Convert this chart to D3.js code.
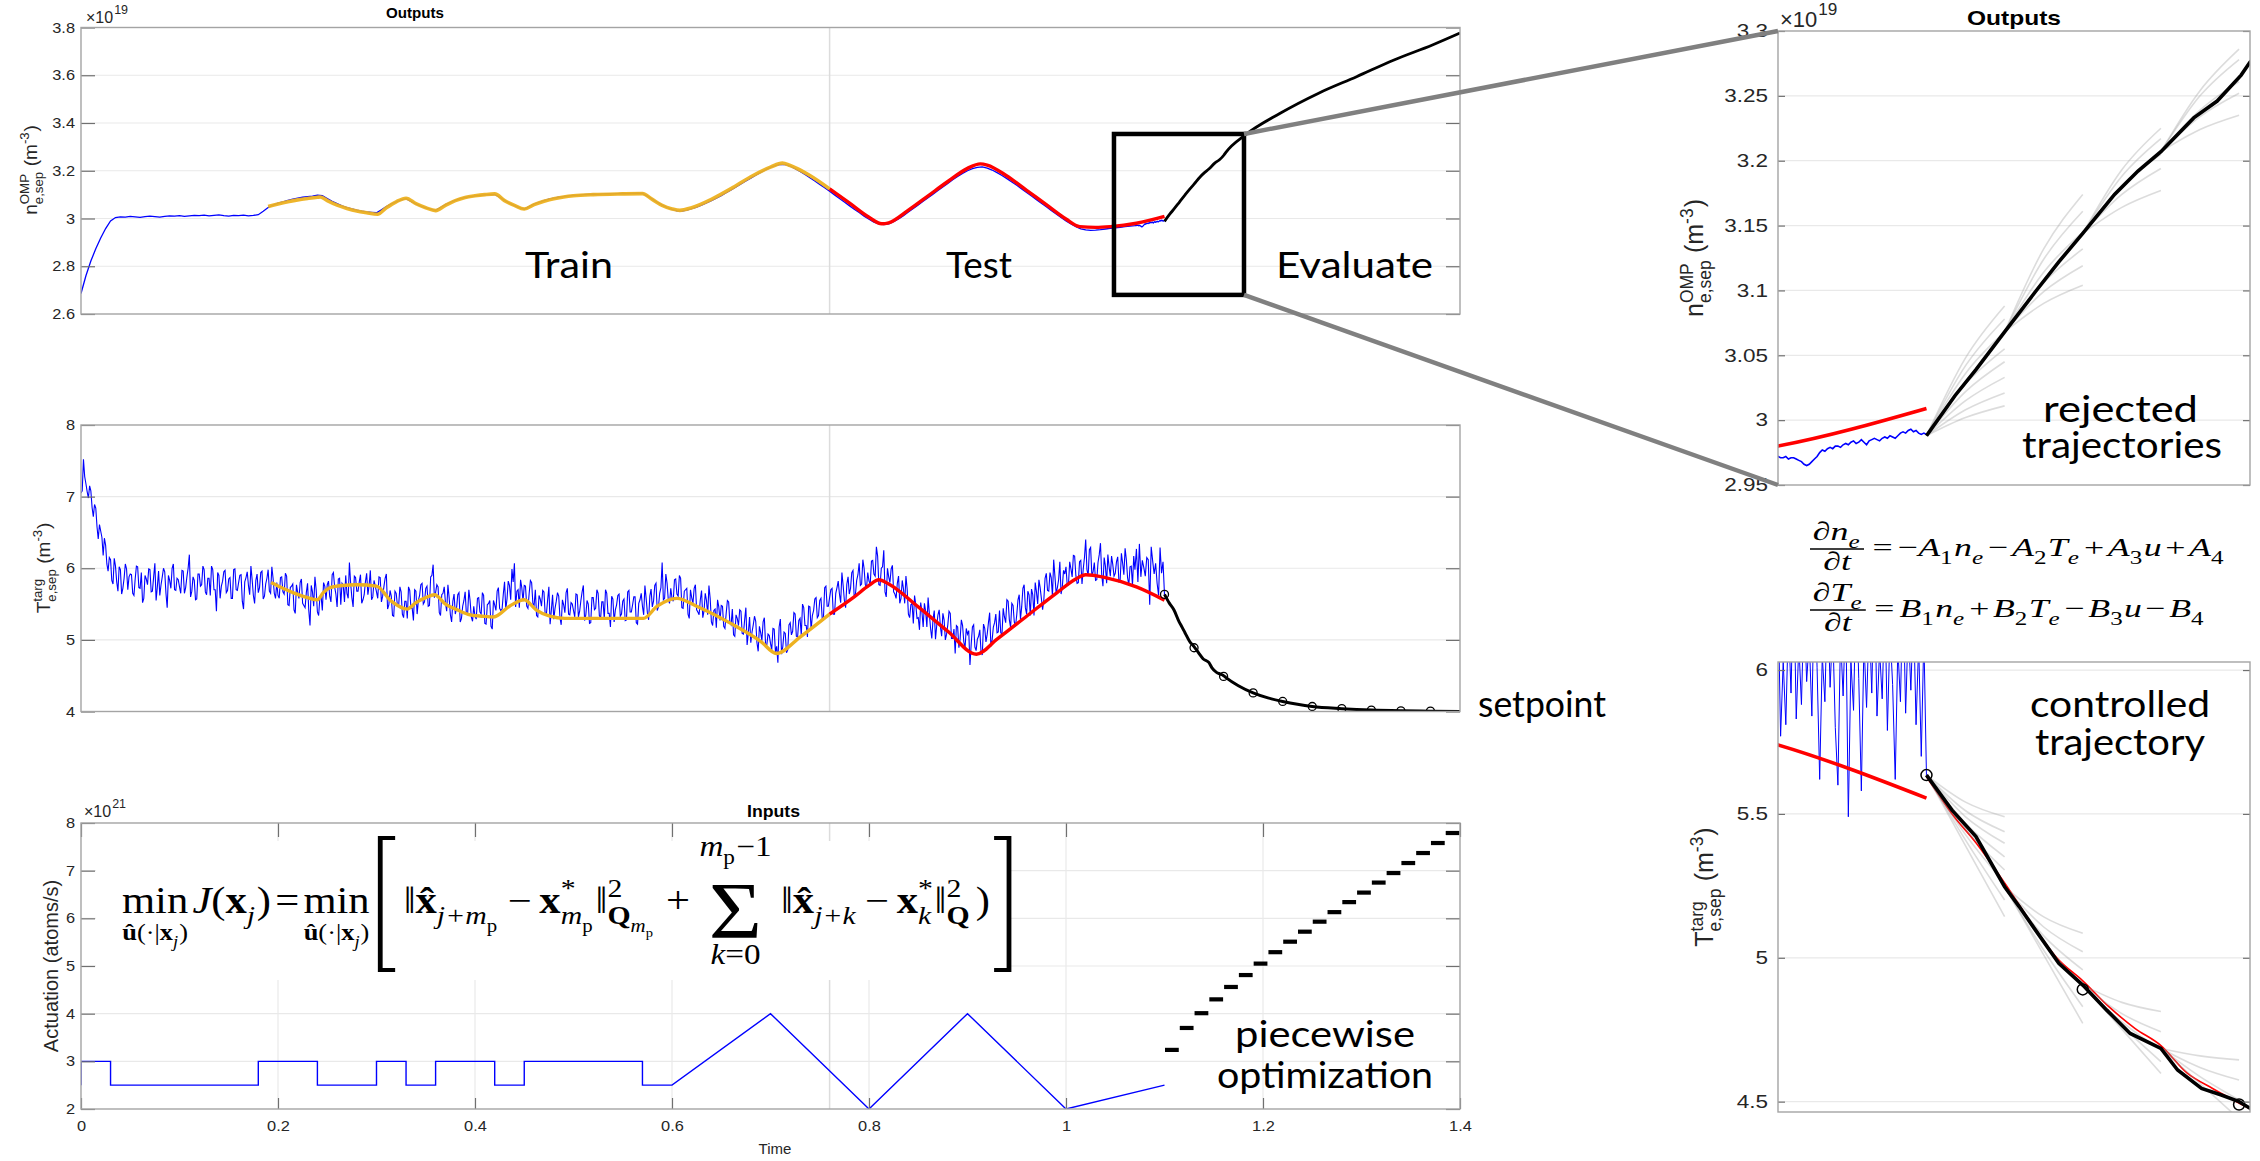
<!DOCTYPE html>
<html>
<head>
<meta charset="utf-8">
<script src="https://cdnjs.cloudflare.com/ajax/libs/d3/7.8.5/d3.min.js"></script>
<style>
  html, body { margin: 0; padding: 0; background: #ffffff; }
  svg { display: block; }
</style>
</head>
<body>
<svg id="fig" width="2260" height="1161" xmlns="http://www.w3.org/2000/svg"></svg>
<script>
// ---------------- tick values ----------------
const timeTicks = [0, 0.2, 0.4, 0.6, 0.8, 1, 1.2, 1.4];
const nTicks = [2.6, 2.8, 3, 3.2, 3.4, 3.6, 3.8];
const TTicks = [4, 5, 6, 7, 8];
const uTicks = [2, 3, 4, 5, 6, 7, 8];
const nZoomTicks = [2.95, 3, 3.05, 3.1, 3.15, 3.2, 3.25, 3.3];
const TZoomTicks = [4.5, 5, 5.5, 6];
const splitTime = 0.76;               // train / test boundary

// ---------------- density n (x1e19 m^-3) ----------------
// measured, 0 .. 1.065 s every 5 ms, in units of 1e16
const nBlueStep = 0.005;
const nBlue = [
 2686,2760,2822,2873,2918,2958,2990,3004,3007,3006,
 3009,3007,3005,3008,3010,3008,3006,3009,3011,3010,
 3012,3009,3011,3013,3012,3014,3011,3013,3015,3012,
 3010,3013,3012,3014,3011,3013,3016,3030,3046,3056,
 3064,3070,3076,3081,3085,3089,3092,3094,3098,3096,
 3084,3072,3062,3053,3046,3040,3035,3031,3028,3026,
 3024,3036,3050,3061,3070,3078,3083,3072,3061,3052,
 3045,3039,3034,3046,3058,3068,3076,3083,3088,3092,
 3095,3097,3099,3100,3101,3089,3076,3064,3054,3046,
 3039,3050,3060,3068,3075,3081,3085,3089,3092,3095,
 3097,3098,3100,3101,3102,3101,3103,3104,3103,3104,
 3105,3104,3105,3106,3105,3094,3081,3068,3056,3046,
 3038,3032,3031,3035,3041,3048,3056,3065,3075,3085,
 3096,3108,3120,3132,3145,3157,3169,3181,3193,3204,
 3214,3222,3227,3226,3219,3209,3197,3184,3171,3157,
 3143,3129,3114,3099,3084,3069,3054,3039,3025,3010,
 2997,2985,2977,2974,2978,2987,2998,3012,3027,3042,
 3057,3072,3087,3102,3117,3132,3147,3162,3176,3189,
 3200,3209,3214,3216,3211,3203,3192,3180,3167,3153,
 3139,3124,3109,3094,3079,3064,3049,3034,3019,3004,
 2990,2977,2966,2957,2952,2950,2951,2953,2956,2959,
 2961,2963,2966,2968
];
// measured, 1.07 .. 1.10 s every 0.5 ms
const fineStart = 1.07, fineStep = 0.0005;
const nBlueFine = [
 2970,2971,2970,2972,2971,2971,2972,2970,2971,2971,
 2970,2969,2968,2966,2965,2966,2968,2970,2972,2975,
 2977,2976,2978,2979,2978,2980,2980,2979,2981,2982,
 2981,2983,2984,2982,2983,2985,2983,2981,2984,2985,
 2986,2985,2984,2986,2987,2986,2988,2987,2986,2988,
 2990,2991,2990,2992,2993,2991,2992,2990,2989,2990,
 2989
];
// identified model, training window
const nTrainT = [0.190,0.200,0.210,0.220,0.230,0.240,0.243,0.250,0.260,0.270,0.280,0.290,0.301,0.310,0.320,0.330,0.340,0.350,0.360,0.370,0.380,0.390,0.400,0.410,0.420,0.430,0.440,0.450,0.460,0.470,0.480,0.490,0.500,0.520,0.550,0.570,0.580,0.590,0.600,0.608,0.620,0.640,0.660,0.680,0.700,0.712,0.720,0.740,0.760];
const nTrainV = [3.050,3.061,3.070,3.078,3.084,3.089,3.090,3.075,3.056,3.042,3.031,3.024,3.018,3.045,3.070,3.085,3.062,3.045,3.033,3.055,3.075,3.088,3.095,3.100,3.103,3.075,3.055,3.040,3.058,3.072,3.083,3.090,3.095,3.100,3.103,3.104,3.080,3.055,3.040,3.034,3.045,3.080,3.125,3.175,3.215,3.232,3.222,3.180,3.124];
// identified model, test window
const nTestT = [0.760,0.780,0.800,0.813,0.820,0.840,0.860,0.880,0.900,0.913,0.920,0.940,0.960,0.980,1.000,1.014,1.030,1.045,1.0715,1.100];
const nTestV = [3.124,3.065,3.005,2.978,2.982,3.035,3.095,3.155,3.210,3.229,3.224,3.178,3.118,3.058,2.998,2.966,2.963,2.966,2.980,3.009];
// controlled trajectory
const nCtrlT = [1.100,1.1055,1.1095,1.115,1.1209,1.1254,1.130,1.1361,1.1406,1.145,1.1513,1.1558,1.1604,1.1621,1.182,1.217,1.256,1.295,1.333,1.372,1.400];
const nCtrlV = [2.988,3.019,3.039,3.068,3.099,3.122,3.144,3.174,3.192,3.207,3.233,3.246,3.266,3.276,3.350,3.440,3.524,3.594,3.664,3.727,3.777];
// candidate (rejected) trajectories of each optimisation step
const fanStep = 0.015;
const nFanOrigin = [[1.100,2.988],[1.115,3.068],[1.130,3.144],[1.145,3.207]];
const nFanMid = [[3.048,3.042,3.036,3.028,3.022,3.015,3.008,3.002],[3.132,3.124,3.114,3.106,3.099,3.090],[3.193,3.188,3.181,3.174,3.164],[3.254,3.250,3.239,3.234,3.224]];
const nFanEnd = [[3.088,3.078,3.068,3.055,3.045,3.033,3.021,3.011],[3.174,3.161,3.145,3.132,3.119,3.104],[3.225,3.217,3.205,3.194,3.177],[3.286,3.278,3.261,3.252,3.235]];
// magnified window
const zoomWindow = { t: [1.0487, 1.1807], n: [2.680, 3.354] };

// ---------------- target temperature T ----------------
// measured, 0 .. 1.06875 s every 1.25 ms, in units of 0.01
const TBlueStep = 0.00125;
const TBlue = [
 705,708,752,728,718,707,698,715,708,685,672,689,684,658,641,661,652,643,618,642,632,606,596,615,612,583,578,614,603,581,568,602,598,564,572,586,606,599,570,588,
 592,591,565,562,585,603,602,573,572,594,552,558,590,585,577,599,598,567,568,588,607,555,574,596,562,577,588,600,595,565,545,590,583,572,600,606,570,569,586,584,
 574,565,597,596,565,573,588,600,619,560,568,588,583,556,557,592,592,575,577,603,598,567,563,586,586,562,603,598,570,570,540,594,590,558,575,582,595,597,566,569,
 585,587,558,558,598,599,570,569,580,590,591,554,543,581,587,595,576,563,603,584,562,551,583,592,566,573,594,596,557,561,578,586,598,568,565,602,586,565,558,580,
 562,558,587,588,567,564,593,589,549,548,573,575,578,542,537,577,566,558,580,585,551,548,545,566,579,541,520,576,567,547,588,570,539,534,559,561,541,580,575,556,
 577,582,561,553,591,594,574,564,546,585,586,549,579,576,553,590,565,558,608,579,559,546,589,587,568,568,581,591,551,556,563,581,593,563,576,597,556,560,583,575,
 567,558,588,587,553,561,574,586,592,543,549,569,561,534,533,568,565,548,548,574,567,536,531,554,554,530,574,569,544,544,527,570,568,536,555,562,577,579,550,553,
 572,575,547,548,588,590,605,559,566,577,574,538,534,563,565,574,552,540,577,559,535,525,554,564,536,544,563,566,525,530,547,555,567,536,536,570,555,532,526,547,
 533,529,558,559,539,536,566,562,523,522,549,551,555,519,515,555,549,541,568,573,544,541,543,564,581,543,557,582,576,556,599,581,607,546,568,570,545,584,573,554,
 576,575,547,544,565,583,580,551,548,570,534,532,562,557,547,569,567,536,536,556,574,522,541,563,529,544,554,566,561,531,521,556,549,538,566,572,536,535,552,550,
 541,532,564,563,532,540,555,567,576,527,535,555,550,523,524,559,559,542,544,570,565,534,530,553,553,529,570,565,537,537,518,561,557,525,542,549,562,564,533,536,
 554,557,527,528,567,569,539,539,549,560,560,524,522,551,556,565,547,535,576,558,538,528,561,571,546,554,576,579,541,546,565,573,608,556,558,592,579,556,551,572,
 558,554,584,585,564,561,590,586,545,544,568,570,572,536,530,570,559,551,572,577,542,539,535,556,569,531,540,565,555,535,576,558,525,520,541,543,517,556,546,527,
 548,547,519,516,537,555,553,524,521,543,507,505,535,530,520,542,540,509,508,528,545,493,510,532,496,511,521,533,526,496,484,519,510,499,525,531,494,493,508,506,
 495,486,516,515,483,491,468,518,529,480,491,511,509,482,486,521,524,507,512,538,536,505,504,527,530,506,550,545,520,520,504,547,546,514,534,541,557,559,531,534,
 555,558,530,531,573,575,547,547,559,570,572,536,536,565,573,582,564,552,594,576,555,545,578,588,564,572,594,597,559,564,583,591,607,576,578,612,600,577,573,594,
 582,578,610,611,592,589,630,617,577,576,600,602,625,567,560,600,588,580,599,604,567,564,558,579,589,551,558,583,571,551,589,571,536,531,549,551,523,562,549,530,
 531,514,552,539,518,551,540,518,559,537,516,502,529,541,501,520,535,542,518,505,537,528,500,508,521,540,537,502,502,515,481,520,518,489,501,528,520,497,489,516,
 508,513,465,494,518,521,490,485,501,505,514,483,479,522,516,497,508,524,538,491,500,518,524,536,510,511,541,510,507,544,532,524,556,554,528,517,551,548,525,519,
 535,556,563,529,546,572,577,545,536,568,563,534,571,563,534,580,567,550,584,573,558,542,556,586,593,569,568,594,587,561,612,589,565,573,584,609,564,574,597,592,
 602,576,577,609,599,588,618,617,590,579,580,609,611,578,599,615,640,598,590,626,629,590,595,608,583,584,608,619,635,591,575,615,603,579,619,602,589,617,605,589,
 593,609,616,580,584,621,607,591,628,612,587,576,602,603,576,617
];
// measured, 1.07 .. 1.10 s every 0.5 ms
const TBlueFine = [
 598,612,585,627,577,603,581,618,592,634,
 583,609,588,624,596,611,584,632,601,562,
 605,589,628,594,615,580,560,612,591,622,
 549,603,586,630,597,558,610,587,619,592,
 636,584,607,590,625,579,614,595,562,608,
 589,629,585,616,593,622,581,609,570,612,
 563
];
const TTrainT = [0.193,0.205,0.217,0.230,0.240,0.246,0.253,0.265,0.280,0.300,0.315,0.331,0.340,0.350,0.359,0.370,0.382,0.395,0.408,0.419,0.435,0.450,0.462,0.476,0.491,0.530,0.571,0.585,0.605,0.625,0.661,0.690,0.706,0.730,0.760];
const TTrainV = [5.80,5.72,5.65,5.59,5.56,5.66,5.73,5.76,5.77,5.75,5.54,5.43,5.52,5.59,5.63,5.50,5.42,5.35,5.33,5.32,5.47,5.56,5.42,5.33,5.30,5.30,5.30,5.47,5.58,5.47,5.22,4.98,4.81,5.04,5.36];
const TTestT = [0.760,0.785,0.800,0.810,0.820,0.850,0.880,0.909,0.930,0.960,0.990,1.010,1.020,1.040,1.0715,1.100];
const TTestV = [5.36,5.60,5.76,5.84,5.78,5.46,5.12,4.80,5.01,5.33,5.65,5.85,5.91,5.87,5.74,5.555];
const TRefT = [1.100,1.1049,1.1095,1.115,1.1209,1.125,1.130,1.135,1.140,1.145,1.150,1.155,1.1621];
const TRefV = [5.63,5.50,5.40,5.26,5.10,5.00,4.92,4.83,4.755,4.695,4.60,4.545,4.475];
const TCtrlT = [1.100,1.1049,1.1095,1.115,1.1178,1.1209,1.1254,1.130,1.1346,1.1391,1.145,1.1482,1.1528,1.1566,1.160,1.1621,1.175,1.190,1.205,1.220,1.235,1.250,1.280,1.310,1.340,1.370,1.400];
const TCtrlV = [5.635,5.513,5.421,5.247,5.178,5.097,4.981,4.905,4.818,4.737,4.685,4.610,4.546,4.523,4.500,4.477,4.360,4.260,4.190,4.140,4.100,4.070,4.040,4.020,4.010,4.005,4.000];
const TMarkT = [1.10,1.13,1.16,1.19,1.22,1.25,1.28,1.31,1.34,1.37];
const TMarkV = [5.635,4.890,4.490,4.260,4.140,4.070,4.040,4.020,4.010,4.005];
const TFanOrigin = [[1.100,5.635],[1.115,5.247],[1.130,4.905],[1.145,4.685]];
const TFanMid = [[5.541,5.511,5.490,5.467,5.447,5.428,5.409,5.389],[5.142,5.107,5.076,5.053,5.026,5.010],[4.845,4.806,4.777,4.764,4.752],[4.659,4.619,4.587,4.563]];
const TFanEnd = [[5.490,5.438,5.398,5.351,5.305,5.259,5.201,5.143],[5.085,5.021,4.958,4.900,4.830,4.772],[4.813,4.743,4.680,4.639,4.598],[4.645,4.575,4.506,4.440]];

// ---------------- actuation u (x1e21 atoms/s) ----------------
const uStart = 2.5;
const uBreaks = [0, 0.03, 0.18, 0.24, 0.30, 0.33, 0.36, 0.42, 0.45, 0.57, 0.60];
const uLevels = [3, 2.5, 3, 2.5, 3, 2.5, 3, 2.5, 3, 2.5];
const rampT = [0.60, 0.70, 0.80, 0.90, 1.00, 1.10];
const rampU = [2.5, 4, 2, 4, 2, 2.5];
const uOptStart = 1.1, uOptStep = 0.015;
const uOpt = [3.24,3.70,4.01,4.30,4.56,4.81,5.05,5.29,5.51,5.72,5.93,6.13,6.34,6.54,6.75,6.95,7.16,7.37,7.58,7.79];

// ---------------- scales ----------------
const xMain = d3.scaleLinear().domain([0, 1.4]).range([81, 1460]);
const yN = d3.scaleLinear().domain([2.6, 3.8]).range([314, 27.5]);
const yT = d3.scaleLinear().domain([4, 8]).range([711.5, 425]);
const yU = d3.scaleLinear().domain([2, 8]).range([1109, 823]);
const xZ = d3.scaleLinear().domain([1.0715, 1.1621]).range([1778, 2250]);
const yNz = d3.scaleLinear().domain([2.95, 3.3]).range([485, 31]);
const yTz = d3.scaleLinear().domain([4.464, 6.028]).range([1112, 662]);

const svg = d3.select('#fig');
const SANS = '"Liberation Sans", Arial, Helvetica, sans-serif';
const SERIF = '"Liberation Serif", "DejaVu Serif", serif';
const NOTE = 'Lato, "Open Sans", sans-serif';

const layerBack = svg.append('g');
const layerMath = svg.append('g');
const layerData = svg.append('g');
const layerAxes = svg.append('g');
const layerText = svg.append('g');
const layerTop = svg.append('g');

// series assembled from the measured arrays
const nSeries = nBlue.map((v, i) => [i * nBlueStep, v / 1000])
  .concat(nBlueFine.map((v, j) => [fineStart + j * fineStep, v / 1000]));
const TCoarse = TBlue.map((v, i) => [i * TBlueStep, v / 100]);
const TFine = TBlueFine.map((v, j) => [fineStart + j * fineStep, v / 100]);
// the full-range view keeps every third fine sample so the trace density stays even
const TSeriesMain = TCoarse.concat(TFine.filter((d, j) => j % 3 === 0 || j === TFine.length - 1));
const TSeriesZoom = TCoarse.filter(d => d[0] >= 1.065).concat(TFine);
const zip = (a, b) => a.map((t, i) => [t, b[i]]);
const uSeries = (() => {
  const pts = [[0, uStart]];
  uLevels.forEach((lv, i) => { pts.push([uBreaks[i], lv]); pts.push([uBreaks[i + 1], lv]); });
  pts.push([uBreaks[uBreaks.length - 1], rampU[0]]);
  return pts.concat(zip(rampT, rampU).slice(1));
})();

// ---------------- panels ----------------
const panels = {
  n:  { x: xMain, y: yN, yTicks: nTicks, len: 14, fs: 14.5, k: 1.13, pad: 6, split: true },
  T:  { x: xMain, y: yT, yTicks: TTicks, len: 14, fs: 14.5, k: 1.13, pad: 6, split: true },
  u:  { x: xMain, y: yU, yTicks: uTicks, xTicks: timeTicks, len: 14, fs: 14.5, k: 1.13, pad: 6, split: true, xGrid: true },
  nz: { x: xZ, y: yNz, yTicks: nZoomTicks, len: 7, fs: 18, k: 1.25, pad: 10 },
  Tz: { x: xZ, y: yTz, yTicks: TZoomTicks, len: 7, fs: 18, k: 1.25, pad: 10 }
};

function clipFor(id, p) {
  const [x0, x1] = p.x.range(), [yb, yt] = p.y.range();
  svg.append('clipPath').attr('id', 'clip-' + id)
    .append('rect').attr('x', x0).attr('y', yt).attr('width', x1 - x0).attr('height', yb - yt);
  return layerData.append('g').attr('clip-path', `url(#clip-${id})`);
}

function drawBack(p) {
  const [x0, x1] = p.x.range(), [yb, yt] = p.y.range();
  const g = layerBack.append('g');
  g.append('rect').attr('x', x0).attr('y', yt).attr('width', x1 - x0).attr('height', yb - yt).attr('fill', '#fff');
  const inner = p.yTicks.filter(v => v > p.y.domain()[0] + 1e-9 && v < p.y.domain()[1] - 1e-9);
  g.selectAll(null).data(inner).join('line')
    .attr('x1', x0).attr('x2', x1).attr('y1', d => p.y(d)).attr('y2', d => p.y(d))
    .attr('stroke', '#e9e9e9').attr('stroke-width', 1.2);
  if (p.xGrid) {
    g.selectAll(null).data(p.xTicks.slice(1, -1)).join('line')
      .attr('x1', d => p.x(d)).attr('x2', d => p.x(d)).attr('y1', yt).attr('y2', yb)
      .attr('stroke', '#e9e9e9').attr('stroke-width', 1.2);
  }
  if (p.split) {
    g.append('line').attr('x1', p.x(splitTime)).attr('x2', p.x(splitTime)).attr('y1', yt).attr('y2', yb)
      .attr('stroke', '#dcdcdc').attr('stroke-width', 1.5);
  }
}

// tick labels are slightly wide; stretch them horizontally around their anchor
function styleAxis(sel, p, labelled) {
  sel.select('.domain').remove();
  sel.selectAll('.tick line').attr('stroke', '#707070').attr('stroke-width', 1.2);
  if (!labelled) { sel.selectAll('.tick text').remove(); return; }
  sel.selectAll('.tick text').attr('fill', '#262626')
    .style('font-family', SANS).style('font-size', p.fs + 'px')
    .each(function () {
      const x = +(this.getAttribute('x') || 0);
      this.setAttribute('x', 0);
      this.setAttribute('transform', `translate(${x},0) scale(${p.k},1)`);
    });
}

function drawAxes(p) {
  const [x0, x1] = p.x.range(), [yb, yt] = p.y.range();
  const g = layerAxes.append('g');
  const fmt = d3.format('~g');
  g.append('g').attr('transform', `translate(${x0},0)`)
    .call(d3.axisLeft(p.y).tickValues(p.yTicks).tickSizeInner(-p.len).tickSizeOuter(0).tickPadding(p.pad).tickFormat(fmt))
    .call(styleAxis, p, true);
  g.append('g').attr('transform', `translate(${x1},0)`)
    .call(d3.axisRight(p.y).tickValues(p.yTicks).tickSizeInner(-p.len).tickSizeOuter(0))
    .call(styleAxis, p, false);
  if (p.xTicks) {
    g.append('g').attr('transform', `translate(0,${yb})`)
      .call(d3.axisBottom(p.x).tickValues(p.xTicks).tickSizeInner(-11).tickSizeOuter(0).tickPadding(12).tickFormat(fmt))
      .call(styleAxis, p, true);
    g.append('g').attr('transform', `translate(0,${yt})`)
      .call(d3.axisTop(p.x).tickValues(p.xTicks).tickSizeInner(-14).tickSizeOuter(0))
      .call(styleAxis, p, false);
  }
  g.append('rect').attr('x', x0).attr('y', yt).attr('width', x1 - x0).attr('height', yb - yt)
    .attr('fill', 'none').attr('stroke', '#a4a4a4').attr('stroke-width', 1.4);
}

Object.values(panels).forEach(drawBack);

// ---------------- math typesetting helpers ----------------
function putRun(g, x, y, str, fs, o) {
  const t = g.append('text').attr('x', x).attr('y', y).text(str)
    .style('font-size', fs + 'px')
    .style('font-style', o && o.it ? 'italic' : 'normal')
    .style('font-weight', o && o.b ? 'bold' : 'normal');
  return t.node().getComputedTextLength();
}
function layRow(g, x, y, fs, items) {
  let cx = x;
  items.forEach(it => {
    if (typeof it === 'number') { cx += it * fs; return; }
    if (Array.isArray(it)) { cx += putRun(g, cx, y, it[0], fs, it[1]); return; }
    let w = 0;
    if (it.sup) w = Math.max(w, layRow(g, cx, y - fs * 0.42, fs * 0.7, it.sup) - cx);
    if (it.sub) w = Math.max(w, layRow(g, cx, y + fs * 0.3, fs * 0.7, it.sub) - cx);
    cx += w + fs * 0.04;
  });
  return cx;
}
function layStack(g, x, y, main, mainFs, mainDy, over, under, fs, overDy, underDy) {
  const gm = g.append('g'), go = g.append('g'), gu = g.append('g');
  const wm = layRow(gm, 0, 0, mainFs, main);
  const wo = over ? layRow(go, 0, 0, fs, over) : 0;
  const wu = under ? layRow(gu, 0, 0, fs, under) : 0;
  const w = Math.max(wm, wo, wu);
  gm.attr('transform', `translate(${x + (w - wm) / 2},${y + mainDy})`);
  go.attr('transform', `translate(${x + (w - wo) / 2},${y + overDy})`);
  gu.attr('transform', `translate(${x + (w - wu) / 2},${y + underDy})`);
  return x + w;
}

// cost function of the predictive controller
(function costFunction() {
  layerMath.append('rect').attr('x', 96).attr('y', 841).attr('width', 911).attr('height', 139).attr('fill', '#fff');
  const F = 40;
  const g = layerMath.append('g').style('font-family', SERIF).attr('fill', '#000');
  const inner = g.append('g');
  const arg = [['û', { b: 1 }], ['(·|'], ['x', { b: 1 }], { sub: [['j', { it: 1 }]] }, [')']];
  let cx = 0;
  cx = layStack(inner, cx, 0, [['min']], F, 0, null, arg, F * 0.62, 0, 30);
  cx += F * 0.1;
  cx = layRow(inner, cx, 0, F, [['J', { it: 1 }], ['('], ['x', { b: 1 }], { sub: [['j', { it: 1 }]] }, [')'], 0.1, ['='], 0.1]);
  cx = layStack(inner, cx, 0, [['min']], F, 0, null, arg, F * 0.62, 0, 30);
  cx += F * 0.25;
  inner.append('path').attr('d', `M${cx + 14},-81H${cx}V62H${cx + 14}`).attr('fill', 'none').attr('stroke', '#000').attr('stroke-width', 4.5);
  cx += 22;
  cx = layRow(inner, cx, 0, F, [
    ['‖'], ['x\u0302', { b: 1 }], { sub: [['j+m', { it: 1 }], { sub: [['p']] }] }, 0.18, ['−'], 0.18,
    ['x', { b: 1 }], { sup: [['*']], sub: [['m', { it: 1 }], { sub: [['p']] }] }, ['‖'],
    { sup: [['2']], sub: [['Q', { b: 1 }], { sub: [['m', { it: 1 }], { sub: [['p']] }] }] }, 0.22, ['+'], 0.22]);
  cx = layStack(inner, cx, 0, [['Σ']], 86, 27,
    [['m', { it: 1 }], { sub: [['p']] }, ['−1']], [['k', { it: 1 }], ['=0']], F * 0.78, -62, 56);
  cx += F * 0.22;
  cx = layRow(inner, cx, 0, F, [
    ['‖'], ['x\u0302', { b: 1 }], { sub: [['j+k', { it: 1 }]] }, 0.18, ['−'], 0.18,
    ['x', { b: 1 }], { sup: [['*']], sub: [['k', { it: 1 }]] }, ['‖'],
    { sup: [['2']], sub: [['Q', { b: 1 }]] }, 0.1, [')']]);
  cx += F * 0.1;
  inner.append('path').attr('d', `M${cx},-81H${cx + 14}V62H${cx}`).attr('fill', 'none').attr('stroke', '#000').attr('stroke-width', 4.5);
  cx += 14;
  const sx = (1009 - 122) / cx, sy = 132 / 143;
  inner.attr('transform', `translate(122,${838 + 81 * sy}) scale(${sx},${sy})`);
})();

// reduced model equations (fraction on the left, stretched to the given width)
function fracEq(num, den, rhs, fs, x0, x1, barY, sy) {
  const g = layerMath.append('g').style('font-family', SERIF).attr('fill', '#000');
  const gn = g.append('g'), gd = g.append('g');
  const wn = layRow(gn, 0, 0, fs, num), wd = layRow(gd, 0, 0, fs, den);
  const w = Math.max(wn, wd) + fs * 0.16;
  const bar = -fs * 0.28;
  gn.attr('transform', `translate(${(w - wn) / 2},${bar - fs * 0.34})`);
  gd.attr('transform', `translate(${(w - wd) / 2},${bar + fs * 0.8})`);
  g.append('line').attr('x1', 0).attr('x2', w).attr('y1', bar).attr('y2', bar).attr('stroke', '#000').attr('stroke-width', 1.4);
  const end = layRow(g, w + fs * 0.1, 0, fs, rhs);
  const sx = (x1 - x0) / end;
  g.attr('transform', `translate(${x0},${barY - bar * sy}) scale(${sx},${sy})`);
}
const it = s => [s, { it: 1 }];
fracEq([['∂'], it('n'), { sub: [it('e')] }], [['∂'], it('t')],
  [0.14, ['='], 0.14, ['−'], it('A'), { sub: [['1']] }, it('n'), { sub: [it('e')] }, 0.1, ['−'], 0.1,
   it('A'), { sub: [['2']] }, it('T'), { sub: [it('e')] }, 0.1, ['+'], 0.1, it('A'), { sub: [['3']] }, it('u'), 0.1, ['+'], 0.1, it('A'), { sub: [['4']] }],
  29, 1810, 2225, 549, 0.9);
fracEq([['∂'], it('T'), { sub: [it('e')] }], [['∂'], it('t')],
  [0.14, ['='], 0.14, it('B'), { sub: [['1']] }, it('n'), { sub: [it('e')] }, 0.1, ['+'], 0.1,
   it('B'), { sub: [['2']] }, it('T'), { sub: [it('e')] }, 0.1, ['−'], 0.1, it('B'), { sub: [['3']] }, it('u'), 0.1, ['−'], 0.1, it('B'), { sub: [['4']] }],
  29, 1810, 2205, 610, 0.9);

// ---------------- data marks ----------------
const lineOf = (x, y, curve) => d3.line().x(d => x(d[0])).y(d => y(d[1])).curve(curve || d3.curveLinear);
const BLUE = '#0000ff', GOLD = '#EDB120', RED = '#ff0000';

function fans(g, x, y, origin, mid, end) {
  origin.forEach((o, k) => {
    mid[k].forEach((m, j) => {
      const pts = [o, [o[0] + fanStep / 2, m], [o[0] + fanStep, end[k][j]]];
      g.append('path').attr('d', lineOf(x, y, d3.curveNatural)(pts))
        .attr('fill', 'none').attr('stroke', '#9a9a9a').attr('stroke-opacity', 0.35).attr('stroke-width', 1.6);
    });
  });
}

// density, main view
(function () {
  const g = clipFor('n', panels.n);
  g.append('path').attr('d', lineOf(xMain, yN)(nSeries)).attr('fill', 'none').attr('stroke', BLUE).attr('stroke-width', 1.3);
  g.append('path').attr('d', lineOf(xMain, yN, d3.curveMonotoneX)(zip(nTrainT, nTrainV))).attr('fill', 'none').attr('stroke', GOLD).attr('stroke-width', 3.6).attr('stroke-opacity', 0.95);
  g.append('path').attr('d', lineOf(xMain, yN, d3.curveMonotoneX)(zip(nTestT, nTestV))).attr('fill', 'none').attr('stroke', RED).attr('stroke-width', 3.4);
  g.append('path').attr('d', lineOf(xMain, yN, d3.curveMonotoneX)(zip(nCtrlT, nCtrlV))).attr('fill', 'none').attr('stroke', '#000').attr('stroke-width', 2.8);
})();

// temperature, main view
(function () {
  const g = clipFor('T', panels.T);
  g.append('path').attr('d', lineOf(xMain, yT)(TSeriesMain)).attr('fill', 'none').attr('stroke', BLUE).attr('stroke-width', 1.1);
  g.append('path').attr('d', lineOf(xMain, yT, d3.curveMonotoneX)(zip(TTrainT, TTrainV))).attr('fill', 'none').attr('stroke', GOLD).attr('stroke-width', 3.4);
  g.append('path').attr('d', lineOf(xMain, yT, d3.curveMonotoneX)(zip(TTestT, TTestV))).attr('fill', 'none').attr('stroke', RED).attr('stroke-width', 3.4);
  g.append('path').attr('d', lineOf(xMain, yT, d3.curveMonotoneX)(zip(TCtrlT, TCtrlV))).attr('fill', 'none').attr('stroke', '#000').attr('stroke-width', 3);
  g.selectAll(null).data(zip(TMarkT, TMarkV)).join('circle')
    .attr('cx', d => xMain(d[0])).attr('cy', d => yT(d[1])).attr('r', 4)
    .attr('fill', 'none').attr('stroke', '#000').attr('stroke-width', 1.3);
})();

// actuation
(function () {
  const g = clipFor('u', panels.u);
  g.append('path').attr('d', lineOf(xMain, yU)(uSeries)).attr('fill', 'none').attr('stroke', BLUE).attr('stroke-width', 1.4);
  g.selectAll(null).data(uOpt).join('line')
    .attr('x1', (d, k) => xMain(uOptStart + k * uOptStep) + 0.5)
    .attr('x2', (d, k) => xMain(uOptStart + (k + 1) * uOptStep) - 0.5)
    .attr('y1', d => yU(d)).attr('y2', d => yU(d))
    .attr('stroke', '#000').attr('stroke-width', 4.2);
})();

// density, magnified
(function () {
  const g = clipFor('nz', panels.nz);
  fans(g, xZ, yNz, nFanOrigin, nFanMid, nFanEnd);
  g.append('path').attr('d', lineOf(xZ, yNz)(nSeries.filter(d => d[0] >= 1.065))).attr('fill', 'none').attr('stroke', BLUE).attr('stroke-width', 1.6);
  g.append('path').attr('d', lineOf(xZ, yNz, d3.curveMonotoneX)(zip(nTestT, nTestV))).attr('fill', 'none').attr('stroke', RED).attr('stroke-width', 3.6);
  g.append('path').attr('d', lineOf(xZ, yNz)(zip(nCtrlT, nCtrlV))).attr('fill', 'none').attr('stroke', '#000').attr('stroke-width', 3.6);
})();

// temperature, magnified
(function () {
  const g = clipFor('Tz', panels.Tz);
  g.append('path').attr('d', lineOf(xZ, yTz)(TSeriesZoom)).attr('fill', 'none').attr('stroke', BLUE).attr('stroke-width', 1);
  g.append('path').attr('d', lineOf(xZ, yTz, d3.curveMonotoneX)(zip(TTestT, TTestV))).attr('fill', 'none').attr('stroke', RED).attr('stroke-width', 3.6);
  g.append('path').attr('d', lineOf(xZ, yTz, d3.curveMonotoneX)(zip(TRefT, TRefV))).attr('fill', 'none').attr('stroke', RED).attr('stroke-width', 1.6);
  fans(g, xZ, yTz, TFanOrigin, TFanMid, TFanEnd);
  g.append('path').attr('d', lineOf(xZ, yTz)(zip(TCtrlT, TCtrlV))).attr('fill', 'none').attr('stroke', '#000').attr('stroke-width', 3.6);
  g.selectAll(null).data(zip(TMarkT, TMarkV)).join('circle')
    .attr('cx', d => xZ(d[0])).attr('cy', d => yTz(d[1])).attr('r', 5.5)
    .attr('fill', 'none').attr('stroke', '#000').attr('stroke-width', 1.5);
})();

Object.values(panels).forEach(drawAxes);

// ---------------- labels ----------------
function plainText(str, x, y, fs, o) {
  o = o || {};
  const t = layerText.append('text').attr('x', x).attr('y', y).text(str)
    .style('font-family', o.family || SANS).style('font-size', fs + 'px')
    .style('font-weight', o.weight || 'normal').attr('fill', o.fill || '#262626')
    .attr('text-anchor', o.anchor || 'start');
  if (o.len) t.attr('textLength', o.len).attr('lengthAdjust', 'spacingAndGlyphs');
  return t;
}
function exponent(x, y, fs, pow) {
  const g = layerText.append('g').style('font-family', SANS).attr('fill', '#262626');
  const w = putRun(g, x, y, '×10', fs);
  putRun(g, x + w + 1, y - fs * 0.55, pow, fs * 0.78);
}
exponent(86, 23, 16, '19');
exponent(84, 817, 16, '21');
exponent(1780, 27, 22, '19');

plainText('Outputs', 386, 18, 15, { weight: 'bold', len: 58, fill: '#000' });
plainText('Inputs', 747, 817, 16, { weight: 'bold', len: 53, fill: '#000' });
plainText('Outputs', 1967, 25, 21, { weight: 'bold', len: 94, fill: '#000' });
plainText('Time', 775, 1154, 15, { anchor: 'middle' });

// rotated axis titles with super/subscripts
function yTitle(cx, cy, fs, base, sup, sub) {
  const g = layerText.append('g').style('font-family', SANS).attr('fill', '#262626');
  const inner = g.append('g');
  const end = layRow(inner, 0, 0, fs, [[base], { sup: [[sup]], sub: [[sub]] }, 0.25, ['(m'], { sup: [['-3']] }, [')']]);
  inner.attr('transform', `translate(${-end / 2},0)`);
  g.attr('transform', `translate(${cx},${cy}) rotate(-90)`);
}
yTitle(37, 170, 19, 'n', 'OMP', 'e,sep');
yTitle(50, 568, 19, 'T', 'targ', 'e,sep');
yTitle(1703, 258, 25, 'n', 'OMP', 'e,sep');
yTitle(1713, 887, 25, 'T', 'targ', 'e,sep');
layerText.append('text').text('Actuation (atoms/s)')
  .style('font-family', SANS).style('font-size', '20px').attr('fill', '#262626')
  .attr('text-anchor', 'middle').attr('transform', 'translate(58,966) rotate(-90)');

// annotations; each entry is one text block, one line per [string, x, baseline, width]
const notes = [
  [['Train', 525, 278, 88]],
  [['Test', 946, 278, 66]],
  [['Evaluate', 1276, 278, 157]],
  [['setpoint', 1478, 717, 128]],
  [['rejected', 2043, 422, 155], ['trajectories', 2022, 458, 200]],
  [['controlled', 2030, 717, 180], ['trajectory', 2035, 755, 170]],
  [['piecewise', 1235, 1047, 180], ['optimization', 1217, 1088, 216]]
];
notes.forEach(block => {
  const t = layerText.append('text').style('font-family', NOTE).style('font-size', '37px')
    .style('font-weight', 400).attr('fill', '#000');
  block.forEach(([s, x, y, len]) => {
    t.append('tspan').attr('x', x).attr('y', y).attr('textLength', len)
      .attr('lengthAdjust', 'spacingAndGlyphs').text(s);
  });
});

// ---------------- magnification box and leader lines ----------------
(function () {
  const bx0 = xMain(zoomWindow.t[0]), bx1 = xMain(zoomWindow.t[1]);
  const by0 = yN(zoomWindow.n[1]), by1 = yN(zoomWindow.n[0]);
  layerTop.append('rect').attr('x', bx0).attr('y', by0).attr('width', bx1 - bx0).attr('height', by1 - by0)
    .attr('fill', 'none').attr('stroke', '#000').attr('stroke-width', 4.5);
  const zx0 = xZ.range()[0];
  layerTop.append('line').attr('x1', bx1).attr('y1', by0).attr('x2', zx0).attr('y2', yNz.range()[1])
    .attr('stroke', '#808080').attr('stroke-width', 4.5);
  layerTop.append('line').attr('x1', bx1).attr('y1', by1).attr('x2', zx0).attr('y2', yNz.range()[0])
    .attr('stroke', '#808080').attr('stroke-width', 4.5);
})();
</script>
</body>
</html>
